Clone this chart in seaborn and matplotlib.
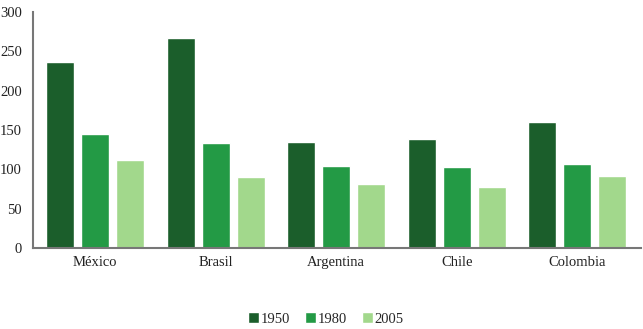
import seaborn as sns
import matplotlib.pyplot as plt
import pandas as pd

countries = ["México", "Brasil", "Argentina", "Chile", "Colombia"]
years = ["1950", "1980", "2005"]
v1950 = [236, 267, 135, 139, 160]
v1980 = [145, 133, 104, 103, 107]
v2005 = [112, 90, 82, 78, 92]
colors = ["#1b5e2b", "#239a45", "#a2d88c"]

rows = []
for year, vals in zip(years, [v1950, v1980, v2005]):
    for c, v in zip(countries, vals):
        rows.append({"country": c, "year": year, "value": v})
df = pd.DataFrame(rows)

sns.set_style("white")
plt.rcParams["font.family"] = ["Liberation Serif", "DejaVu Serif"]

fig = plt.figure(figsize=(6.43, 3.29), dpi=100)
ax = fig.add_axes([0.0513, 0.246, 0.946, 0.7175])

sns.barplot(
    data=df, x="country", y="value", hue="year", palette=colors,
    width=0.87, gap=0.2, saturation=1, ax=ax, legend=True,
)

ax.set_ylim(0, 300)
ax.set_yticks(range(0, 301, 50))
ax.set_xlim(-0.515, 4.53)
ax.set_xlabel("")
ax.set_ylabel("")
ax.tick_params(axis="both", length=0, labelsize=10.5, colors="#222222")
ax.tick_params(axis="y", pad=8)
ax.tick_params(axis="x", pad=6)
for side in ["top", "right"]:
    ax.spines[side].set_visible(False)
for side in ["left", "bottom"]:
    ax.spines[side].set_color("#777777")
    ax.spines[side].set_linewidth(1.5)

handles, labels = ax.get_legend_handles_labels()
ax.legend(
    handles, labels, loc="center", bbox_to_anchor=(0.482, -0.3),
    ncol=3, frameon=False, fontsize=10.5, handlelength=0.75, handleheight=0.75,
    handletextpad=0.1, columnspacing=1.05,
)

fig.savefig("out.png", dpi=100)
